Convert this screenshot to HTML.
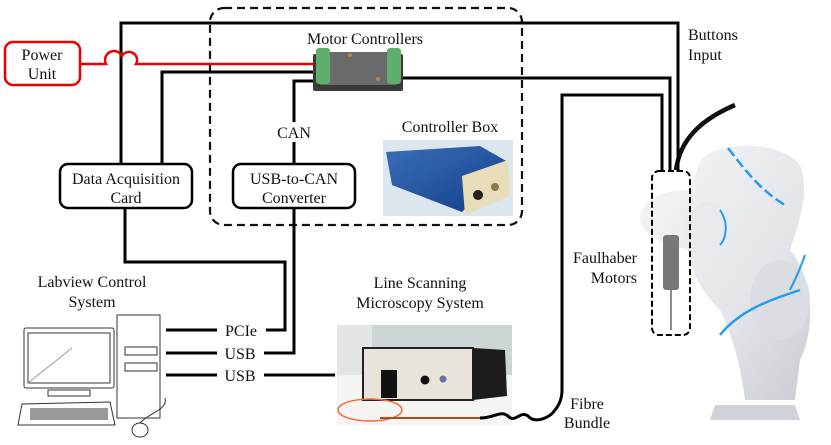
<!DOCTYPE html>
<html><head><style>
html,body{margin:0;padding:0;background:#fff;}
svg{display:block;}
svg text{font-family:"Liberation Serif","Times New Roman",serif;font-size:16px;fill:#111;}
</style></head><body>
<svg width="831" height="445" viewBox="0 0 831 445" xmlns="http://www.w3.org/2000/svg" font-family="Liberation Serif, serif" font-size="16">
<defs>
<linearGradient id="rb" x1="0" y1="0" x2="1" y2="1"><stop offset="0" stop-color="#f6f6f8"/><stop offset="0.6" stop-color="#e3e5e9"/><stop offset="1" stop-color="#c9ccd2"/></linearGradient>
<linearGradient id="blue" x1="0" y1="0" x2="1" y2="1"><stop offset="0" stop-color="#3b6fb8"/><stop offset="1" stop-color="#123e8a"/></linearGradient>
</defs>
<rect x="210" y="8" width="312" height="217" rx="14" fill="none" stroke="#111" stroke-width="2.2" stroke-dasharray="8,5"/>
<rect x="383" y="140" width="130" height="76" fill="#dce6ee"/>
<polygon points="386,152 480,146 508,162 462,212 392,185" fill="url(#blue)"/>
<polygon points="462,176 508,160 510,196 465,215" fill="#e9dcb8"/>
<circle cx="478" cy="195" r="5" fill="#222"/><circle cx="495" cy="187" r="4" fill="#8a7a50"/>
<rect x="337" y="325" width="175" height="100" fill="#f4f4f2"/>
<rect x="337" y="325" width="175" height="50" fill="#cdd4d4"/>
<rect x="337" y="325" width="35" height="50" fill="#e2e5e3"/>
<rect x="363" y="348" width="110" height="52" fill="#e9e4da" stroke="#222" stroke-width="2"/>
<polygon points="473,348 505,350 507,396 473,400" fill="#1c1c1c"/>
<rect x="381" y="370" width="16" height="28" fill="#111"/>
<circle cx="425" cy="380" r="4.5" fill="#111"/><circle cx="443" cy="379" r="3.5" fill="#6474a8"/>
<ellipse cx="370" cy="410" rx="32" ry="11" fill="none" stroke="#f06a3a" stroke-width="1.5"/>
<path d="M380,418 L480,418" stroke="#b04a20" stroke-width="2"/>
<g fill="none" stroke="#333" stroke-width="1">
<rect x="24" y="328" width="90" height="60" rx="2"/>
<rect x="28" y="333" width="82" height="50"/>
<line x1="28" y1="383" x2="72" y2="348" stroke="#999"/>
<rect x="48" y="390" width="42" height="6"/>
<rect x="117" y="315" width="43" height="103"/>
<rect x="125" y="347" width="32" height="8"/><rect x="125" y="363" width="32" height="8"/>
<path d="M22,404 L110,402 L115,425 L18,425 Z"/>
<ellipse cx="140" cy="430" rx="8" ry="7"/>
<path d="M140,423 C150,412 168,410 165,398"/>
</g>
<g fill="#555"><rect x="30" y="408" width="78" height="12" opacity="0.6"/></g>
<path d="M640,220 C640,200 660,190 690,190 L700,160 C720,140 780,140 800,165 C810,190 800,220 790,250 C815,280 815,330 800,360 L795,400 L745,400 C740,360 730,330 720,310 C700,290 690,270 690,250 C670,245 645,240 640,220 Z" fill="url(#rb)"/>
<ellipse cx="708" cy="230" rx="22" ry="28" fill="#e8eaee"/>
<ellipse cx="780" cy="300" rx="30" ry="40" fill="#dadde2"/>
<path d="M715,405 L795,405 L800,420 L710,420 Z" fill="#cfd2d6"/>
<path d="M728,148 C745,170 760,190 785,205" fill="none" stroke="#2a9be8" stroke-width="2.5" stroke-dasharray="10,4"/>
<path d="M720,335 C740,310 770,300 800,290" fill="none" stroke="#2a9be8" stroke-width="2.5"/>
<path d="M805,255 C800,270 795,280 790,290" fill="none" stroke="#2a9be8" stroke-width="2"/>
<path d="M720,210 C730,225 725,240 720,245" fill="none" stroke="#2a9be8" stroke-width="2"/>
<path d="M676,170 C680,140 700,120 735,105" fill="none" stroke="#111" stroke-width="4.5"/>
<rect x="663" y="235" width="16" height="55" rx="3" fill="#777"/>
<line x1="671" y1="290" x2="671" y2="330" stroke="#666" stroke-width="1.5"/>
<rect x="313" y="54" width="90" height="37" rx="2" fill="#3a3a3a"/>
<rect x="320" y="52" width="76" height="33" fill="#6a6a6a"/>
<rect x="316" y="48" width="14" height="36" rx="3" fill="#5fae6e"/>
<rect x="387" y="48" width="14" height="36" rx="3" fill="#5fae6e"/>
<circle cx="350" cy="55" r="2" fill="#c08040"/><circle cx="378" cy="79" r="2" fill="#c08040"/>
<g fill="none" stroke="#000" stroke-width="3">
<polyline points="121,163 121,23 678,23 678,172"/>
<polyline points="162,163 162,72 313,72"/>
<polyline points="403,78 670,78 670,172"/>
<polyline points="313,81 294,81 294,122"/>
<line x1="294" y1="142" x2="294" y2="165"/>
<polyline points="125,208 125,262 285,262 285,330 266,330"/>
<polyline points="294,208 294,353 264,353"/>
<line x1="166" y1="330" x2="217" y2="330"/>
<line x1="166" y1="353" x2="217" y2="353"/>
<line x1="166" y1="375" x2="217" y2="375"/>
<line x1="264" y1="375" x2="335" y2="375"/>
<path d="M480,418 C495,418 500,410 508,416 C515,424 520,410 528,416 C535,424 550,418 555,410 C560,404 562,398 562,390 L562,95 L662,95 L662,172"/>
</g>
<path d="M80,64 L106,64 A8,8 0 0 1 122,56 A8,8 0 0 1 136,64 L313,64" fill="none" stroke="#e00" stroke-width="2.5"/>
<rect x="5" y="42" width="75" height="43" rx="8" fill="#fff" stroke="#e00" stroke-width="2.5"/>
<rect x="60" y="164" width="132" height="44" rx="8" fill="#fff" stroke="#000" stroke-width="2.5"/>
<rect x="233" y="164" width="122" height="44" rx="8" fill="#fff" stroke="#000" stroke-width="2.5"/>
<rect x="652" y="171" width="38" height="164" rx="7" fill="none" stroke="#000" stroke-width="2" stroke-dasharray="6,3"/>
<text x="42" y="60" text-anchor="middle">Power</text>
<text x="42" y="79" text-anchor="middle">Unit</text>
<text x="365" y="44" text-anchor="middle">Motor Controllers</text>
<text x="126" y="184" text-anchor="middle">Data Acquisition</text>
<text x="126" y="203" text-anchor="middle">Card</text>
<text x="294" y="184" text-anchor="middle">USB-to-CAN</text>
<text x="294" y="203" text-anchor="middle">Converter</text>
<text x="294" y="138" text-anchor="middle">CAN</text>
<text x="450" y="132" text-anchor="middle">Controller Box</text>
<text x="688" y="40">Buttons</text>
<text x="688" y="60">Input</text>
<text x="637" y="263" text-anchor="end">Faulhaber</text>
<text x="637" y="283" text-anchor="end">Motors</text>
<text x="92" y="287" text-anchor="middle">Labview Control</text>
<text x="92" y="307" text-anchor="middle">System</text>
<text x="420" y="288" text-anchor="middle">Line Scanning</text>
<text x="420" y="308" text-anchor="middle">Microscopy System</text>
<text x="241" y="336" text-anchor="middle">PCIe</text>
<text x="240" y="359" text-anchor="middle">USB</text>
<text x="240" y="381" text-anchor="middle">USB</text>
<text x="587" y="409" text-anchor="middle">Fibre</text>
<text x="587" y="428" text-anchor="middle">Bundle</text>
</svg>
</body></html>
